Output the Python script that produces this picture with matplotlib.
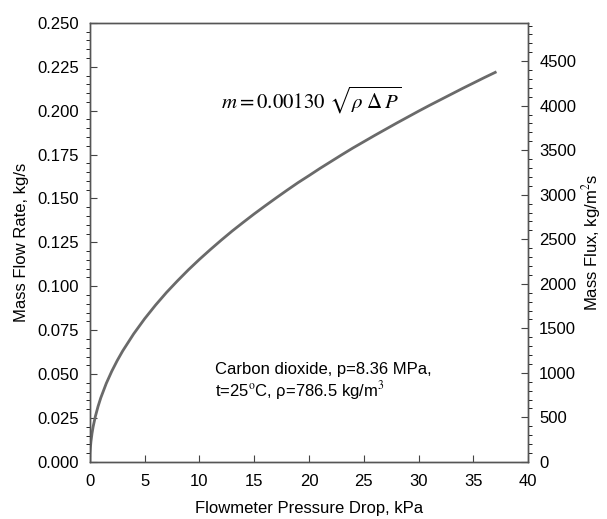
import matplotlib
matplotlib.use("Agg")
import matplotlib.pyplot as plt
from matplotlib.ticker import MultipleLocator

plt.rcParams['font.family'] = ['Liberation Sans', 'DejaVu Sans']
plt.rcParams['mathtext.fontset'] = 'stix'

# pressure drop, kPa and mass flow rate, kg/s
dp = [0, 0.005, 0.02, 0.05, 0.1, 0.2, 0.3, 0.5, 0.75, 1, 1.5, 2, 2.5, 3, 4, 5,
      6, 7, 8, 9, 10, 11, 12, 13, 14, 15, 16, 17, 18, 19, 20, 21, 22, 23, 24,
      25, 26, 27, 28, 29, 30, 31, 32, 33, 34, 35, 36, 37]
mflow = [0, 0.0026, 0.0052, 0.0082, 0.0115, 0.0163, 0.0200, 0.0258, 0.0316,
         0.0365, 0.0447, 0.0516, 0.0577, 0.0632, 0.0729, 0.0815, 0.0893,
         0.0965, 0.1031, 0.1094, 0.1153, 0.1209, 0.1263, 0.1315, 0.1364,
         0.1412, 0.1458, 0.1503, 0.1547, 0.1590, 0.1630, 0.1671, 0.1710,
         0.1749, 0.1787, 0.1823, 0.1859, 0.1894, 0.1929, 0.1963, 0.1997,
         0.2030, 0.2062, 0.2094, 0.2126, 0.2157, 0.2188, 0.2218]
flux_top = 4930  # mass flux at top of axis (0.25 kg/s)

fs = 12
fig = plt.figure(figsize=(6.07, 5.19), dpi=100)
ax = fig.add_axes([0.148, 0.110, 0.722, 0.846])
ax.plot(dp, mflow, color='#6a6a6a', lw=2.0)
ax.set_xlim(0, 40)
ax.set_ylim(0, 0.25)
ax.xaxis.set_major_locator(MultipleLocator(5))
ax.yaxis.set_major_locator(MultipleLocator(0.025))
ax.yaxis.set_minor_locator(MultipleLocator(0.005))
ax.yaxis.set_major_formatter(plt.FormatStrFormatter('%.3f'))
ax.tick_params(direction='in', labelsize=fs, color='#444444', right=False)
ax.tick_params(which='major', length=5)
ax.tick_params(which='minor', length=3)
ax.tick_params(axis='y', pad=8)
ax.tick_params(axis='x', pad=9)
ax.set_xlabel('Flowmeter Pressure Drop, kPa', fontsize=fs, labelpad=8)
ax.set_ylabel('Mass Flow Rate, kg/s', fontsize=fs, labelpad=6)

ax2 = ax.twinx()
ax2.set_ylim(0, flux_top)
ax2.yaxis.set_major_locator(MultipleLocator(500))
ax2.yaxis.set_minor_locator(MultipleLocator(100))
ax2.tick_params(direction='in', labelsize=fs, color='#444444', pad=8)
ax2.tick_params(which='major', length=5)
ax2.tick_params(which='minor', length=3)
ax2.set_ylabel('Mass Flux, kg/m$^2$s', fontsize=fs, labelpad=3)

for a in (ax, ax2):
    for s in a.spines.values():
        s.set_color('#555555')
        s.set_linewidth(1.0)

ax.text(12.0, 0.206, r'$m = 0.00130\ \sqrt{\rho\ \Delta\,P}$', fontsize=15,
        va='center', ha='left')
ax.text(11.4, 0.057, 'Carbon dioxide, p=8.36 MPa,\nt=25$^{\\rm o}$C, \u03c1=786.5 kg/m$^3$',
        fontsize=fs, va='top', ha='left', linespacing=1.15)

fig.savefig('out.png', dpi=100)
